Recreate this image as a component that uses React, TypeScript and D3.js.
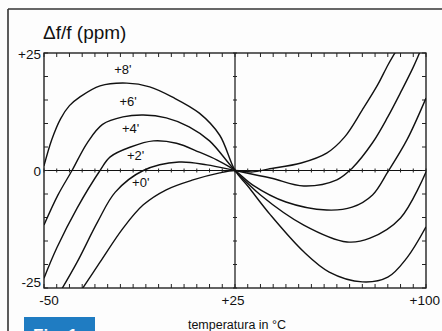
import React from 'react';
import * as d3 from 'd3';

const W = 442;
const H = 331;

// Temperature axis (°C) and frequency deviation axis (ppm)
const xDomain = [-50, 100];
const yDomain = [-25, 25];
const xLabelValues = [-50, 25, 100];
const xLabelTexts = ['-50', '+25', '+100'];
const yLabelValues = [25, 0, -25];
const yLabelTexts = ['+25', '0', '-25'];

// Curve names (cut angle offsets)
const curveNames = ["+8'", "+6'", "+4'", "+2'", "+0'"];

// +8'
const tempA = [-50, -47, -43.5, -40, -36, -28, -17.5, -8.5, 0.5, 11, 19, 25, 30, 39, 52, 62, 75, 85, 92.5, 100];
const valA = [1.0, 6.5, 11.0, 13.8, 15.6, 18.0, 18.6, 17.8, 15.6, 12.2, 7.5, 0, -3.3, -9.5, -17.3, -21.6, -23.7, -22.7, -18.6, -12.0];
// +6'
const tempB = [-50, -44.5, -39, -33, -27, -19, -11, -2, 7, 15, 25, 35, 52, 69, 78, 90, 100];
const valB = [-11.6, -5.2, 0, 5.9, 9.8, 11.4, 11.8, 11.2, 9.3, 6.3, 0, -5.2, -11.6, -15.2, -14.4, -10.1, -0.3];
// +4'
const tempC = [-50, -45, -37, -28, -24, -16, -7, 2, 11, 18, 25, 32, 45, 61, 71, 79, 85, 92.5, 100];
const valC = [-22.9, -16.5, -8, 0, 2.9, 5.0, 6.3, 5.8, 3.9, 2.2, 0, -3.1, -6.7, -8.4, -7.8, -5.2, -0.3, 6.5, 15.4];
// +2'
const tempD = [-43, -37, -29, -22, -11, 3, 14, 25, 39, 52, 65, 71, 79, 85, 90.5, 95, 97.6];
const valD = [-25.2, -19.5, -11, -4.6, 0, 1.8, 1.2, 0, -1.6, -3.3, -2.0, 0.5, 5.9, 11.4, 17.1, 22, 25.2];
// +0'
const tempE = [-35, -28, -19, -11, -2, 8.5, 19, 25, 32, 38, 51, 61, 68, 75, 81, 85, 88];
const valE = [-25.2, -19.5, -12.3, -7.3, -4.1, -2.0, -0.5, 0, -0.3, 0.3, 1.6, 3.7, 7.1, 12.9, 18.2, 22.4, 25.2];

// Label anchor positions in data units (temperature, ppm)
const labelTemps = [-19, -17, -16, -14, -12];
const labelVals = [20.5, 13.7, 8, 2.3, -3.6];

const curveTemps = [tempA, tempB, tempC, tempD, tempE];
const curveVals = [valA, valB, valC, valD, valE];

export default function App() {
  const x = d3.scaleLinear().domain(xDomain).range([44, 426]);
  const y = d3.scaleLinear().domain(yDomain).range([288, 53]);
  const xTicks = d3.range(-50, 101, 5);
  const yTicks = d3.range(-25, 26, 5);

  const line = d3
    .line<[number, number]>()
    .x((d) => x(d[0]))
    .y((d) => y(d[1]))
    .curve(d3.curveCatmullRom.alpha(0.5));

  const font = 'Liberation Sans, Arial, Helvetica, sans-serif';
  const x0 = x(-50), x1 = x(100), y0 = y(25), y1 = y(-25);
  const xz = x(25), yz = y(0);
  const tl = 4;

  return (
    <svg
      width={W}
      height={H}
      style={{ position: 'absolute', left: 0, top: 0, background: '#fdfdfd' }}
    >
      <defs>
        <clipPath id="plotclip">
          <rect x={x0} y={y0} width={x1 - x0} height={y1 - y0} />
        </clipPath>
      </defs>
      <rect x={0} y={0} width={W} height={H} fill="#fdfdfd" />
      {/* outer frame */}
      <line x1={8} y1={9} x2={W} y2={9} stroke="#333" strokeWidth={1.6} />
      <line x1={8} y1={9} x2={8} y2={H} stroke="#333" strokeWidth={1.6} />

      {/* title */}
      <text
        x={43}
        y={39}
        fontFamily="'Liberation Sans Narrow', 'Arial Narrow', 'Liberation Sans', sans-serif"
        fontSize={19}
        fill="#111"
        style={{ fontStretch: 'condensed' }}
      >
        Δf/f (ppm)
      </text>

      {/* plot frame */}
      <rect x={x0} y={y0} width={x1 - x0} height={y1 - y0} fill="none" stroke="#111" strokeWidth={1.3} />
      <line x1={x0} y1={yz} x2={x1} y2={yz} stroke="#111" strokeWidth={1.2} />
      <line x1={xz} y1={y0} x2={xz} y2={y1} stroke="#111" strokeWidth={1.2} />

      {/* x ticks */}
      {xTicks.map((t) => (
        <g key={'xt' + t} stroke="#222" strokeWidth={1}>
          <line x1={x(t)} y1={y0} x2={x(t)} y2={y0 + tl} />
          <line x1={x(t)} y1={y1} x2={x(t)} y2={y1 - tl} />
          <line x1={x(t)} y1={yz - 2} x2={x(t)} y2={yz + 2} />
        </g>
      ))}
      {/* y ticks */}
      {yTicks.map((t) => (
        <g key={'yt' + t} stroke="#222" strokeWidth={1}>
          <line x1={x0} y1={y(t)} x2={x0 + tl} y2={y(t)} />
          <line x1={x1} y1={y(t)} x2={x1 - tl} y2={y(t)} />
          <line x1={xz - 2} y1={y(t)} x2={xz + 2} y2={y(t)} />
        </g>
      ))}

      {/* y labels */}
      {yLabelValues.map((v, i) => (
        <text
          key={'yl' + v}
          x={x0 - 3}
          y={v === 25 ? y(v) + 6 : v === -25 ? y(v) - 1 : y(v) + 5}
          textAnchor="end"
          fontFamily={font}
          fontSize={13.5}
          fill="#111"
        >
          {yLabelTexts[i]}
        </text>
      ))}
      {/* x labels */}
      {xLabelValues.map((v, i) => (
        <text
          key={'xl' + v}
          x={v === -50 ? x(v) + 5 : v === 100 ? x(v) + 14 : x(v) - 2}
          y={305}
          textAnchor={v === 100 ? 'end' : 'middle'}
          fontFamily={font}
          fontSize={13.5}
          fill="#111"
        >
          {xLabelTexts[i]}
        </text>
      ))}
      <text x={237} y={329} textAnchor="middle" fontFamily={font} fontSize={12.5} fill="#111">
        temperatura in °C
      </text>

      {/* curves */}
      <g clipPath="url(#plotclip)">
        {curveTemps.map((ts, i) => (
          <path
            key={'c' + i}
            d={line(ts.map((t, j) => [t, curveVals[i][j]] as [number, number])) || ''}
            fill="none"
            stroke="#111"
            strokeWidth={1.4}
          />
        ))}
      </g>

      {/* curve labels */}
      {curveNames.map((n, i) => (
        <text
          key={'n' + i}
          x={x(labelTemps[i])}
          y={y(labelVals[i])}
          textAnchor="middle"
          fontFamily={font}
          fontSize={13}
          fill="#111"
        >
          {n}
        </text>
      ))}

      {/* figure tag */}
      <rect x={24} y={317} width={71} height={20} fill="#1f7cc2" />
      <text x={33} y={341} fontFamily={font} fontSize={17} fontWeight="bold" fill="#fff">
        Fig. 1
      </text>
    </svg>
  );
}
